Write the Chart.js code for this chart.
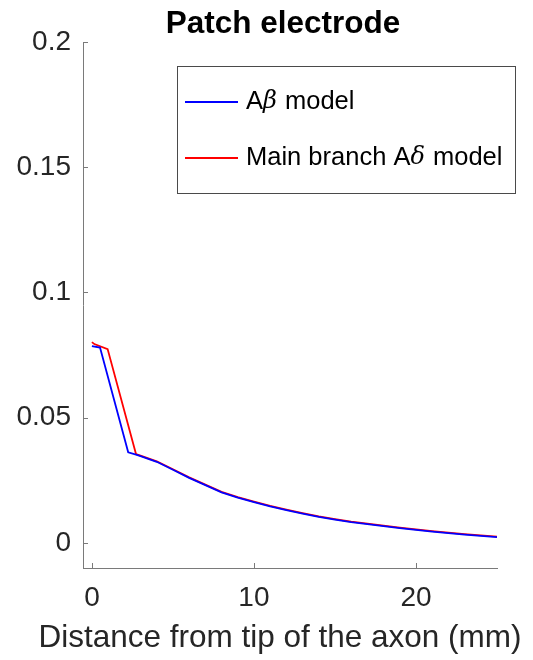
<!DOCTYPE html>
<html>
<head>
<meta charset="utf-8">
<title>Patch electrode</title>
<script src="https://cdn.jsdelivr.net/npm/chart.js@4/dist/chart.umd.min.js"></script>
<style>
  html, body { margin: 0; padding: 0; background: #fff; }
  #wrap { width: 533px; height: 660px; position: relative; }
</style>
</head>
<body>
<div id="wrap"><canvas id="chart" width="533" height="660"></canvas></div>
<script>
const chartTitle = "Patch electrode";
const xAxisTitle = "Distance from tip of the axon (mm)";
const seriesNames = [["A", "\u03b2", " model"], ["Main branch A", "\u03b4", " model"]];
const seriesColors = ["#0000ff", "#ff0000"];

const xTicks = [0, 10, 20];
const yTicks = [0, 0.05, 0.1, 0.15, 0.2];

// A-beta model
const distBeta = [0, 0.5, 2.24, 2.72, 3, 4, 5, 6, 7, 8, 9, 10, 11, 12, 13, 14, 15, 16, 17, 18, 19, 20, 21, 22, 23, 24, 25];
const valBeta = [0.0786, 0.0780, 0.0362, 0.0353, 0.0347, 0.0324, 0.0292, 0.0260, 0.0231, 0.0202, 0.0181, 0.0163, 0.0146, 0.0131, 0.0117, 0.0104, 0.0093, 0.0083, 0.0075, 0.0067, 0.0059, 0.0052, 0.0045, 0.0039, 0.0033, 0.0028, 0.0023];

// main branch A-delta model
const distDelta = [0, 0.15, 0.97, 2.72, 3, 4, 5, 6, 7, 8, 9, 10, 11, 12, 13, 14, 15, 16, 17, 18, 19, 20, 21, 22, 23, 24, 25];
const valDelta = [0.0802, 0.0794, 0.0774, 0.0355, 0.0349, 0.0326, 0.0294, 0.0262, 0.0233, 0.0204, 0.0183, 0.0165, 0.0148, 0.0133, 0.0119, 0.0106, 0.0095, 0.0085, 0.0077, 0.0069, 0.0061, 0.0054, 0.0047, 0.0041, 0.0035, 0.0030, 0.0025];

const font = "'Liberation Sans', Arial, Helvetica, sans-serif";
const axisGray = "#7a7a7a";
const textColor = "#262626";

function toPoints(xs, ys) {
  return xs.map(function (x, i) { return { x: x, y: ys[i] }; });
}

// little inward tick marks, matlab style
const innerTicks = {
  id: "innerTicks",
  afterDatasetsDraw: function (chart) {
    const ctx = chart.ctx;
    const area = chart.chartArea;
    const xs = chart.scales.x;
    const ys = chart.scales.y;
    ctx.save();
    ctx.strokeStyle = axisGray;
    ctx.lineWidth = 1;
    ctx.beginPath();
    xTicks.forEach(function (v) {
      const px = Math.round(xs.getPixelForValue(v)) + 0.5;
      ctx.moveTo(px, area.bottom);
      ctx.lineTo(px, area.bottom - 5);
    });
    yTicks.forEach(function (v) {
      const py = Math.round(ys.getPixelForValue(v)) + 0.5;
      ctx.moveTo(area.left, py);
      ctx.lineTo(area.left + 5, py);
    });
    ctx.stroke();
    ctx.restore();
  }
};

// title and x label, drawn by hand so they can run wider than the axes
const axesText = {
  id: "axesText",
  afterDraw: function (chart) {
    const ctx = chart.ctx;
    ctx.save();
    ctx.textAlign = "center";
    ctx.textBaseline = "alphabetic";
    ctx.fillStyle = "#000";
    ctx.font = "bold 31.5px " + font;
    ctx.fillText(chartTitle, 283, 33);
    ctx.fillStyle = textColor;
    ctx.font = "31.5px " + font;
    ctx.fillText(xAxisTitle, 280, 647);
    ctx.restore();
  }
};

// boxed legend with italic greek letters
const boxLegend = {
  id: "boxLegend",
  afterDatasetsDraw: function (chart) {
    const ctx = chart.ctx;
    const left = 177.5, top = 66.5, w = 338, h = 127;
    ctx.save();
    ctx.fillStyle = "#fff";
    ctx.fillRect(left, top, w, h);
    ctx.strokeStyle = "#4a4a4a";
    ctx.lineWidth = 1;
    ctx.strokeRect(left, top, w, h);
    const rows = [102, 158];
    seriesNames.forEach(function (parts, i) {
      const y = rows[i];
      ctx.strokeStyle = seriesColors[i];
      ctx.lineWidth = 1.8;
      ctx.beginPath();
      ctx.moveTo(185, y);
      ctx.lineTo(238, y);
      ctx.stroke();
      ctx.fillStyle = "#000";
      ctx.textBaseline = "middle";
      let x = 246;
      parts.forEach(function (p, j) {
        ctx.font = (j === 1 ? "italic 24px 'DejaVu Serif', serif" : "25.5px " + font);
        ctx.fillText(p, x, y);
        x += ctx.measureText(p).width + (j === 1 ? 1 : 0);
      });
    });
    ctx.restore();
  }
};

new Chart(document.getElementById("chart"), {
  type: "line",
  data: {
    datasets: [
      {
        label: seriesNames[0].join(""),
        data: toPoints(distBeta, valBeta),
        borderColor: seriesColors[0],
        borderWidth: 1.8,
        pointRadius: 0,
        tension: 0,
        fill: false
      },
      {
        label: seriesNames[1].join(""),
        data: toPoints(distDelta, valDelta),
        borderColor: seriesColors[1],
        borderWidth: 1.8,
        pointRadius: 0,
        tension: 0,
        fill: false
      }
    ]
  },
  options: {
    responsive: false,
    animation: false,
    layout: { padding: { left: 0, right: 36, top: 42, bottom: 0 } },
    plugins: {
      legend: { display: false },
      tooltip: { enabled: false },
      title: { display: false }
    },
    scales: {
      x: {
        type: "linear",
        min: -0.55,
        max: 25,
        afterBuildTicks: function (scale) {
          scale.ticks = xTicks.map(function (v) { return { value: v }; });
        },
        afterFit: function (scale) { scale.height = 92; },
        grid: { display: false, drawTicks: false },
        border: { display: true, color: axisGray, width: 1 },
        ticks: {
          color: textColor,
          font: { family: font, size: 28 },
          padding: 13,
          maxRotation: 0,
          callback: function (v) { return String(v); }
        }
      },
      y: {
        type: "linear",
        min: -0.01,
        max: 0.2,
        afterBuildTicks: function (scale) {
          scale.ticks = yTicks.map(function (v) { return { value: v }; });
        },
        afterFit: function (scale) { scale.width = 83; },
        grid: { display: false, drawTicks: false },
        border: { display: true, color: axisGray, width: 1 },
        ticks: {
          color: textColor,
          font: { family: font, size: 28 },
          padding: 12,
          callback: function (v) { return String(v); }
        }
      }
    }
  },
  plugins: [innerTicks, boxLegend, axesText]
});
</script>
</body>
</html>
